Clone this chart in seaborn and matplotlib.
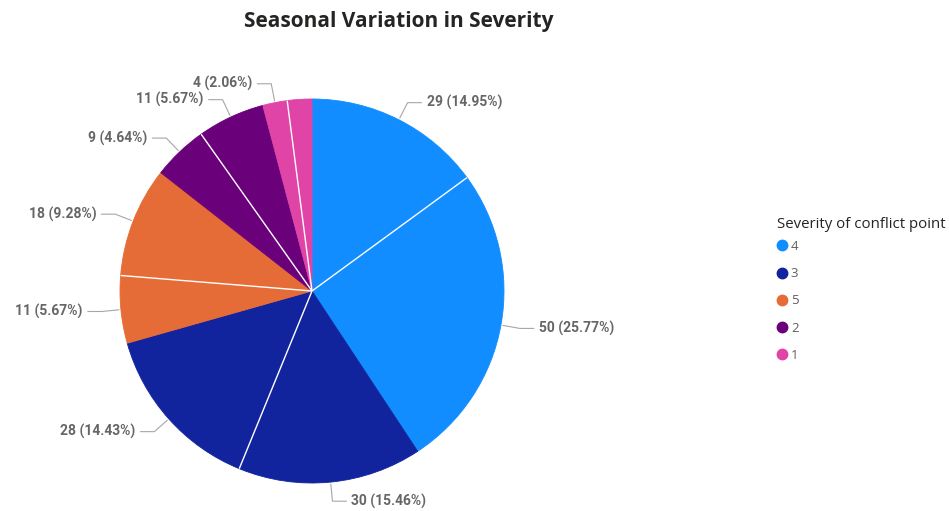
import numpy as np
import matplotlib
matplotlib.use("Agg")
import matplotlib.pyplot as plt
from matplotlib.lines import Line2D
import seaborn as sns

# Chart text
title = "Seasonal Variation in Severity"
legend_title = "Severity of conflict point"

# Slices, clockwise from 12 o'clock
severity = ["4", "4", "3", "3", "5", "5", "2", "2", "1", "1"]
counts = [29, 50, 30, 28, 11, 18, 9, 11, 4, 4]
label_shown = [True, True, True, True, True, True, True, True, True, False]

# Legend order and colours per severity level
legend_order = ["4", "3", "5", "2", "1"]
palette = {"4": "#118DFF", "3": "#12239E", "5": "#E66C37",
           "2": "#6B007B", "1": "#E044A7"}

sns.set_theme(style="white")
plt.rcParams["font.family"] = ["Roboto", "DejaVu Sans"]

W, H, DPI = 949, 511, 100
fig = plt.figure(figsize=(W / DPI, H / DPI), dpi=DPI)
fig.patch.set_facecolor("white")

# Axes covering the figure; one data unit equals the pie radius in pixels
R = 192
cx, cy = 312, 291  # pie centre, pixels from top-left
ax = fig.add_axes([0, 0, 1, 1])

colors = [palette[s] for s in severity]
wedges, _ = ax.pie(counts, colors=colors, startangle=90, counterclock=False,
                   radius=1, center=(0, 0),
                   wedgeprops=dict(linewidth=0.6))
for w in wedges:
    w.set_edgecolor(w.get_facecolor())

ax.set_xlim(-cx / R, (W - cx) / R)
ax.set_ylim(-(H - cy) / R, cy / R)
ax.set_aspect("auto")
ax.axis("off")

total = sum(counts)
cum = np.cumsum(counts)

# Thin white separators between slices of the same severity
n = len(counts)
for i in range(n):
    if severity[i] == severity[(i + 1) % n]:
        ang = np.deg2rad(90 - 360 * cum[i] / total)
        ax.plot([0, np.cos(ang)], [0, np.sin(ang)], color="white", lw=1.0,
                solid_capstyle="butt", zorder=3)

# Data labels with leader lines
seg = 14 / R
gap = 5 / R
start = 0
for i, (v, show) in enumerate(zip(counts, label_shown)):
    mid = 90 - 360 * (start + v / 2) / total
    start += v
    if not show:
        continue
    a = np.deg2rad(mid)
    ex, ey = np.cos(a), np.sin(a)
    bx, by = 1.1 * ex, 1.1 * ey
    side = 1 if ex >= 0 else -1
    hx = bx + side * seg
    ax.plot([1.01 * ex, bx, hx], [1.01 * ey, by, by], color="#A6A6A6",
            lw=0.8, zorder=2)
    ax.text(hx + side * gap, by, f"{v} ({v / total * 100:.2f}%)",
            ha="left" if side > 0 else "right", va="center",
            fontsize=10, fontweight="bold", color="#666666")

# Title
fig.text(399 / W, 1 - 22 / H, title, ha="center", va="center",
         fontsize=15, fontweight="bold", color="#252423",
         family=["Open Sans", "DejaVu Sans"])

# Legend: heading plus one circle marker per severity level
fig.text(777 / W, 1 - 225 / H, legend_title, ha="left", va="center",
         fontsize=10.8, color="#252423", family=["Open Sans", "DejaVu Sans"])
handles = [Line2D([], [], marker="o", ls="", markersize=7.5,
                  markerfacecolor=palette[k], markeredgecolor=palette[k])
           for k in legend_order]
leg = ax.legend(handles, legend_order,
                loc="upper left", bbox_to_anchor=(777 / W, 1 - 240 / H),
                bbox_transform=fig.transFigure, frameon=False,
                handletextpad=0.25, handlelength=0.8,
                labelspacing=1.08, borderaxespad=0, borderpad=0,
                prop=dict(family=["Open Sans", "DejaVu Sans"], size=9.5),
                labelcolor="#605E5C")

fig.savefig("out.png", dpi=DPI, facecolor="white")
